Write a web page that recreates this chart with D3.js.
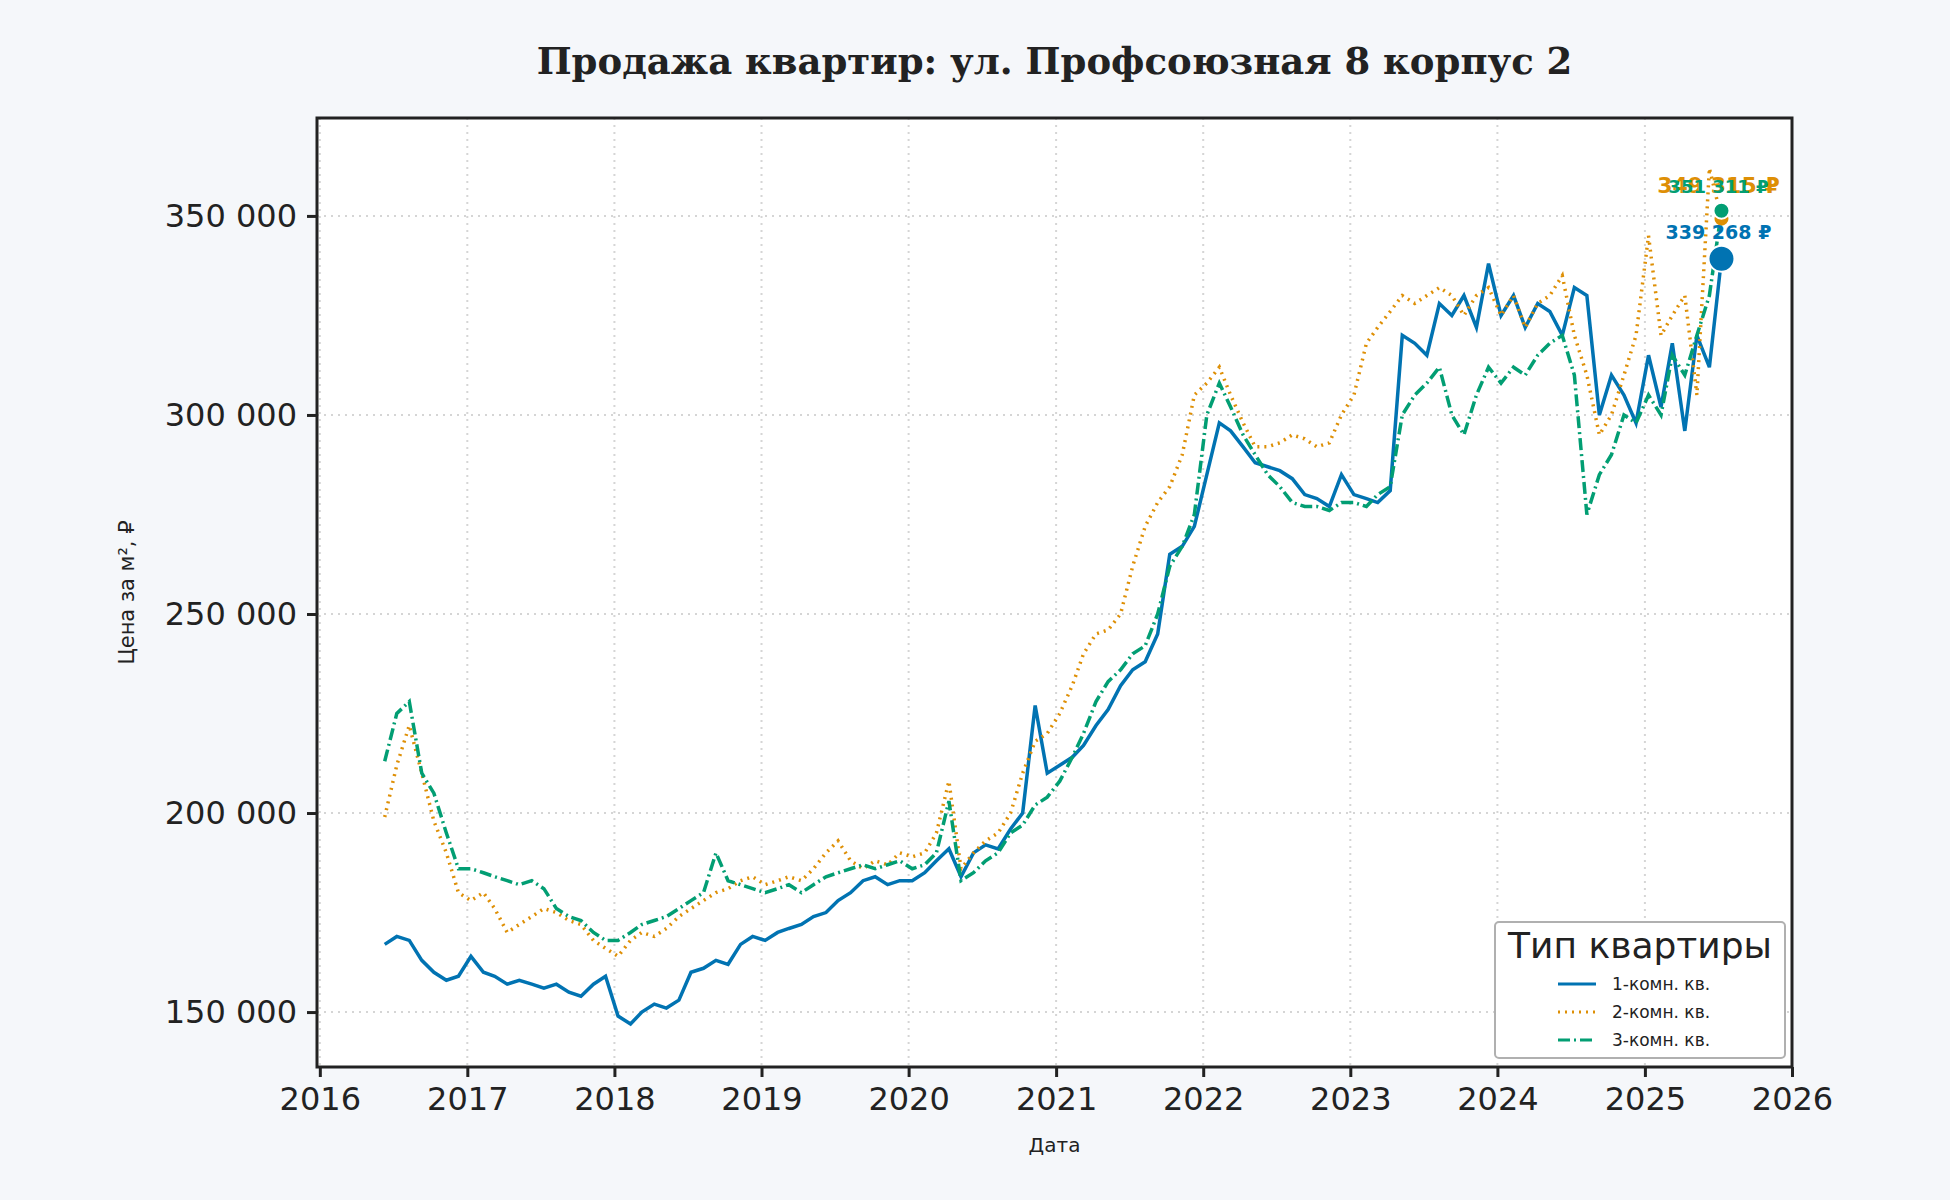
<!DOCTYPE html>
<html><head><meta charset="utf-8">
<script src="https://cdn.jsdelivr.net/npm/d3@7"></script>
<style>
  body { margin: 0; background: #f5f7fa; }
  svg { font-family: "DejaVu Sans", sans-serif; }
</style>
</head><body>
<svg id="chart" width="1950" height="1200"></svg>
<script>
// Monthly values, June 2016 .. July 2025 (thousand ₽ per m²)
const startMonth = new Date(2016, 5, 10);
const oneRoom = [
  167,169,168,163,160,158,159,
  164,160,159,157,158,157,156,157,155,154,157,159,
  149,147,150,152,151,153,160,161,163,162,167,169,
  168,170,171,172,174,175,178,180,183,184,182,183,
  183,185,188,191,184,190,192,191,196,200,227,210,
  212,214,217,222,226,232,236,238,245,265,267,272,
  285,298,296,292,288,287,286,284,280,279,277,285,
  280,279,278,281,320,318,315,328,325,330,322,338,
  325,330,322,328,326,320,332,330,300,310,305,298,
  315,302,318,296,320,312,339.268
];
const twoRoom = [
  199,212,222,210,198,190,180,
  178,180,176,170,172,174,176,175,173,172,168,166,
  164,168,170,169,171,174,176,178,180,181,183,184,
  182,183,184,183,186,190,193,188,186,188,187,190,
  189,190,195,208,186,190,193,195,200,210,218,220,
  225,232,240,245,246,250,262,272,278,282,290,305,
  308,312,305,298,292,292,293,295,294,292,293,300,
  305,318,322,326,330,328,330,332,330,325,330,332,
  325,330,322,328,330,335,320,310,295,300,310,320,
  345,320,325,330,305,362,349.315
];
const threeRoom = [
  213,225,228,210,205,195,186,
  186,185,184,183,182,183,181,176,174,173,170,168,
  168,170,172,173,174,176,178,180,190,183,182,181,
  180,181,182,180,182,184,185,186,187,186,187,188,
  186,187,190,203,183,185,188,190,195,197,202,204,
  208,214,220,228,233,236,240,242,250,262,267,275,
  300,308,302,295,290,285,282,278,277,277,276,278,
  278,277,280,282,300,305,308,312,300,295,305,312,
  308,312,310,315,318,320,310,275,285,290,300,298,
  305,300,315,310,320,330,351.311
];
const seriesNames = ["1-комн. кв.", "2-комн. кв.", "3-комн. кв."];
const seriesColors = ["#0173b2", "#de8f05", "#029e73"];
const seriesDash = [null, "2,5", "12,4,2,4"];
const yTicks = [150000, 200000, 250000, 300000, 350000];
const xTicks = [2016,2017,2018,2019,2020,2021,2022,2023,2024,2025,2026];

const dates = oneRoom.map((_, i) => d3.timeMonth.offset(startMonth, i));
const series = [oneRoom, twoRoom, threeRoom].map(arr => arr.map((v, i) => ({ date: dates[i], value: v * 1000 })));

const svg = d3.select("#chart");
const L = 317, R = 1792, T = 118, B = 1067;

const x = d3.scaleTime().domain([new Date(2015, 11, 25), new Date(2026, 0, 1)]).range([L, R]);
const y = d3.scaleLinear().domain([136200, 374600]).range([B, T]);
const fmt = v => d3.format(",")(v).replace(/,/g, " ");

svg.append("rect").attr("x", L).attr("y", T).attr("width", R - L).attr("height", B - T).attr("fill", "#fff");

// grid
svg.append("g").selectAll("line").data(yTicks).join("line")
  .attr("x1", L).attr("x2", R).attr("y1", d => y(d)).attr("y2", d => y(d))
  .attr("stroke", "#d5d5d5").attr("stroke-width", 2).attr("stroke-dasharray", "2,5");
svg.append("g").selectAll("line").data(xTicks).join("line")
  .attr("y1", T).attr("y2", B).attr("x1", d => x(new Date(d, 0, 1))).attr("x2", d => x(new Date(d, 0, 1)))
  .attr("stroke", "#d5d5d5").attr("stroke-width", 2).attr("stroke-dasharray", "2,5");

// lines
const line = d3.line().x(d => x(d.date)).y(d => y(d.value));
series.forEach((s, i) => {
  svg.append("path").datum(s).attr("d", line).attr("fill", "none")
    .attr("stroke", seriesColors[i]).attr("stroke-width", 3.5)
    .attr("stroke-dasharray", seriesDash[i]);
});

// end points and labels
const lastOrder = [1, 2, 0];
const radii = [13, 8, 8];
lastOrder.forEach(i => {
  const p = series[i][series[i].length - 1];
  svg.append("circle").attr("cx", x(p.date)).attr("cy", y(p.value)).attr("r", radii[i])
    .attr("fill", seriesColors[i]).attr("stroke", "#fff").attr("stroke-width", 2);
});
[1, 2, 0].forEach(i => {
  const p = series[i][series[i].length - 1];
  const ly = i === 0 ? y(p.value) - 20 : y(351311) - 18;
  svg.append("text").attr("x", x(p.date) - 3).attr("y", ly)
    .attr("text-anchor", "middle").attr("fill", seriesColors[i])
    .attr("font-weight", "bold").attr("font-size", i === 0 ? 19 : (i === 1 ? 22 : 18))
    .text(fmt(Math.round(p.value)) + " ₽");
});

// frame
svg.append("rect").attr("x", L).attr("y", T).attr("width", R - L).attr("height", B - T)
  .attr("fill", "none").attr("stroke", "#222").attr("stroke-width", 3);

// axes
const xAxis = svg.append("g").attr("transform", `translate(0,${B})`)
  .call(d3.axisBottom(x).tickValues(xTicks.map(d => new Date(d, 0, 1))).tickFormat(d3.timeFormat("%Y")).tickSize(10).tickPadding(10));
const yAxis = svg.append("g").attr("transform", `translate(${L},0)`)
  .call(d3.axisLeft(y).tickValues(yTicks).tickFormat(fmt).tickSize(10).tickPadding(10));
[xAxis, yAxis].forEach(a => {
  a.select(".domain").remove();
  a.selectAll("line").attr("stroke", "#222").attr("stroke-width", 3);
  a.selectAll("text").attr("font-size", 32).attr("fill", "#222").attr("font-family", "DejaVu Sans");
});

// titles
svg.append("text").attr("x", (L + R) / 2).attr("y", 74).attr("text-anchor", "middle")
  .attr("font-family", "DejaVu Serif").attr("font-weight", "bold").attr("font-size", 37).attr("fill", "#222")
  .text("Продажа квартир: ул. Профсоюзная 8 корпус 2");
svg.append("text").attr("x", (L + R) / 2).attr("y", 1152).attr("text-anchor", "middle")
  .attr("font-size", 20).attr("fill", "#222").text("Дата");
svg.append("text").attr("transform", `translate(134,${(T + B) / 2}) rotate(-90)`).attr("text-anchor", "middle")
  .attr("font-size", 21).attr("fill", "#222").text("Цена за м², ₽");

// legend
const lg = svg.append("g").attr("transform", "translate(1495,922)");
lg.append("rect").attr("width", 290).attr("height", 136).attr("rx", 4)
  .attr("fill", "#fff").attr("stroke", "#b0b0b0").attr("stroke-width", 2);
lg.append("text").attr("x", 145).attr("y", 36).attr("text-anchor", "middle")
  .attr("font-size", 36).attr("fill", "#222").text("Тип квартиры");
seriesNames.forEach((n, i) => {
  const yy = 62 + i * 28;
  lg.append("line").attr("x1", 63).attr("x2", 101).attr("y1", yy).attr("y2", yy)
    .attr("stroke", seriesColors[i]).attr("stroke-width", 3).attr("stroke-dasharray", seriesDash[i]);
  lg.append("text").attr("x", 117).attr("y", yy + 6).attr("font-size", 17).attr("fill", "#222").text(n);
});
</script>
</body></html>
